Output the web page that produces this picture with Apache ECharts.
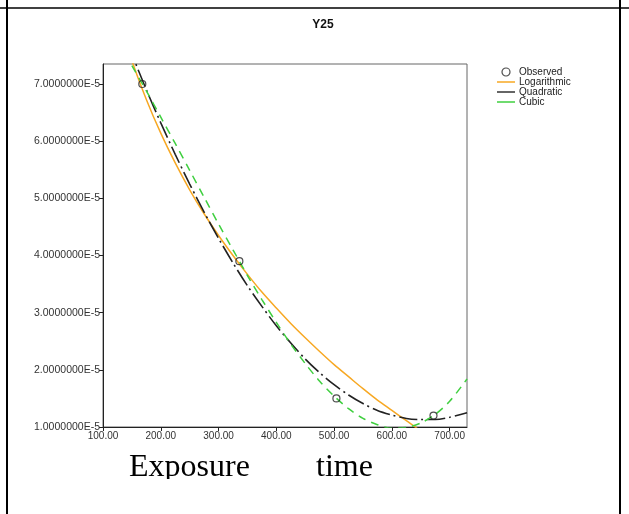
<!DOCTYPE html>
<html>
<head>
<meta charset="utf-8">
<script src="https://cdn.jsdelivr.net/npm/echarts@6/dist/echarts.min.js"></script>
<style>
  html, body { margin: 0; padding: 0; background: #fff; }
  #chart { width: 629px; height: 514px; }
</style>
</head>
<body>
<div id="chart"></div>
<script>
// values in units of 1E-5
const observedX = [168, 336, 504, 672];
const observedY = [7.0, 3.9, 1.5, 1.2];

// fitted curves
const curveX = [125, 150, 175, 200, 225, 250, 275, 300, 325, 350, 375, 400, 425,
  450, 475, 500, 525, 550, 575, 600, 625, 650, 675, 700, 730];
const logY = [8.22, 7.41, 6.73, 6.14, 5.62, 5.15, 4.73, 4.35, 4.00, 3.67, 3.36, 3.08, 2.81,
  2.56, 2.32, 2.09, 1.88, 1.67, 1.47, 1.29, 1.11, 0.93, 0.76, 0.60, 0.42];
const quadY = [8.16, 7.52, 6.90, 6.32, 5.77, 5.25, 4.76, 4.30, 3.87, 3.47, 3.11, 2.77, 2.47,
  2.19, 1.95, 1.74, 1.56, 1.41, 1.29, 1.21, 1.15, 1.13, 1.13, 1.17, 1.25];
const cubicY = [7.74, 7.32, 6.88, 6.42, 5.96, 5.49, 5.02, 4.55, 4.10, 3.65, 3.23, 2.83, 2.45,
  2.11, 1.80, 1.54, 1.32, 1.15, 1.04, 0.98, 0.99, 1.07, 1.22, 1.45, 1.84];

const xTicks = [100, 200, 300, 400, 500, 600, 700];
const yTicks = [1, 2, 3, 4, 5, 6, 7];

const pair = (xs, ys) => xs.map((x, i) => [x, ys[i]]);
const font = 'Liberation Sans, Arial, sans-serif';
const bar = 'path://M0,0H18V1.5H0Z';

const chart = echarts.init(document.getElementById('chart'));
chart.setOption({
  animation: false,
  title: {
    text: 'Y25',
    left: 318,
    top: 14,
    textAlign: 'center',
    textStyle: { fontFamily: font, fontSize: 12, fontWeight: 'bold', color: '#111' }
  },
  legend: {
    orient: 'vertical',
    left: 497,
    top: 67,
    padding: 0,
    itemGap: 0,
    itemWidth: 18,
    itemHeight: 8,
    symbolKeepAspect: true,
    textStyle: { fontFamily: font, fontSize: 10, lineHeight: 8.5, color: '#222', padding: [0, 0, 0, -1] },
    data: [
      { name: 'Observed', icon: 'circle', itemStyle: { color: 'rgba(255,255,255,0)', borderColor: '#222', borderWidth: 1.2 } },
      { name: 'Logarithmic', icon: bar },
      { name: 'Quadratic', icon: bar },
      { name: 'Cubic', icon: bar }
    ]
  },
  grid: {
    left: 103,
    right: 162,
    top: 64,
    bottom: 87,
    show: true,
    borderColor: '#666',
    borderWidth: 1
  },
  xAxis: {
    type: 'value',
    min: 100,
    max: 730,
    splitLine: { show: false },
    axisLine: { show: true, onZero: false, lineStyle: { color: '#222' } },
    axisTick: { show: true, length: 4, customValues: xTicks, lineStyle: { color: '#222' } },
    axisLabel: {
      customValues: xTicks,
      margin: 4,
      fontFamily: font,
      fontSize: 10,
      color: '#333',
      formatter: v => v.toFixed(2)
    }
  },
  yAxis: {
    type: 'value',
    min: 1,
    max: 7.35,
    splitLine: { show: false },
    axisLine: { show: true, onZero: false, lineStyle: { color: '#222' } },
    axisTick: { show: true, length: 4, customValues: yTicks, lineStyle: { color: '#222' } },
    axisLabel: {
      customValues: yTicks,
      margin: 3,
      fontFamily: font,
      fontSize: 10.5,
      color: '#333',
      formatter: v => v.toFixed(7) + 'E-5'
    }
  },
  series: [
    {
      name: 'Observed',
      type: 'scatter',
      symbol: 'circle',
      symbolSize: 7,
      z: 5,
      itemStyle: { color: 'rgba(255,255,255,0)', borderColor: '#222', borderWidth: 1.2 },
      data: pair(observedX, observedY)
    },
    {
      name: 'Logarithmic',
      type: 'line',
      symbol: 'none',
      smooth: 0.3,
      clip: true,
      itemStyle: { color: '#f7a823' },
      lineStyle: { color: '#f7a823', width: 1.5 },
      data: pair(curveX, logY)
    },
    {
      name: 'Quadratic',
      type: 'line',
      symbol: 'none',
      smooth: 0.3,
      clip: true,
      itemStyle: { color: '#333' },
      lineStyle: { color: '#222', width: 1.6, type: [18, 4, 2, 4] },
      data: pair(curveX, quadY)
    },
    {
      name: 'Cubic',
      type: 'line',
      symbol: 'none',
      smooth: 0.3,
      clip: true,
      itemStyle: { color: '#3fcf3f' },
      lineStyle: { color: '#3fcf3f', width: 1.5, type: [8, 6] },
      data: pair(curveX, cubicY)
    }
  ],
  graphic: [
    { type: 'line', shape: { x1: 7, y1: 0, x2: 7, y2: 514 }, style: { stroke: '#000', lineWidth: 2 } },
    { type: 'line', shape: { x1: 620, y1: 0, x2: 620, y2: 514 }, style: { stroke: '#000', lineWidth: 2 } },
    { type: 'line', shape: { x1: 0, y1: 8, x2: 629, y2: 8 }, style: { stroke: '#000', lineWidth: 1.5 } },
    {
      type: 'text', left: 129, top: 452,
      style: { text: 'Exposure', font: '32px "Liberation Serif", "Times New Roman", serif', fill: '#000' }
    },
    {
      type: 'text', left: 316, top: 452,
      style: { text: 'time', font: '32px "Liberation Serif", "Times New Roman", serif', fill: '#000' }
    },
    {
      type: 'rect', z: 100, shape: { x: 110, y: 479, width: 290, height: 20 },
      style: { fill: '#fff' }
    }
  ]
});
</script>
</body>
</html>
